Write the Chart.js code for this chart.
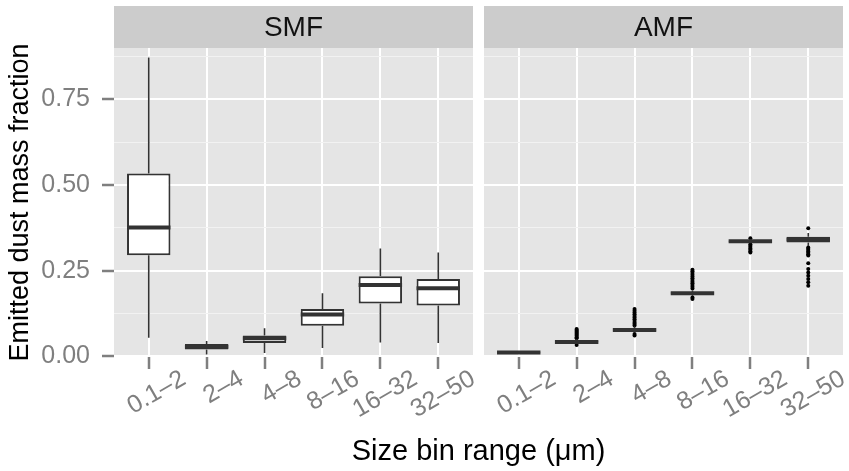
<!DOCTYPE html>
<html>
<head>
<meta charset="utf-8">
<script src="https://cdn.jsdelivr.net/npm/chart.js@4"></script>
<style>
  body { margin: 0; background: #fff; }
  #wrap { position: relative; width: 849px; height: 471px; }
  #wrap canvas { position: absolute; left: 0; top: 0; }
</style>
</head>
<body>
<div id="wrap">
  <canvas id="smf" width="849" height="471"></canvas>
  <canvas id="amf" width="849" height="471"></canvas>
</div>
<script>
const categories = ['0.1–2', '2–4', '4–8', '8–16', '16–32', '32–50'];
const facets = ['SMF', 'AMF'];
const yTicks = [0, 0.125, 0.25, 0.375, 0.5, 0.625, 0.75, 0.875];

// SMF box stats
const smfMin = [0.054, 0.005, 0.010, 0.024, 0.040, 0.039];
const smfQ1 = [0.295, 0.020, 0.039, 0.089, 0.154, 0.148];
const smfMedian = [0.376, 0.028, 0.053, 0.122, 0.208, 0.199];
const smfQ3 = [0.534, 0.036, 0.061, 0.138, 0.234, 0.226];
const smfMax = [0.872, 0.045, 0.082, 0.184, 0.315, 0.303];
const smfOutliers = [[], [], [], [], [], []];

// AMF box stats
const amfMin = [0.007, 0.036, 0.070, 0.176, 0.331, 0.322];
const amfQ1 = [0.010, 0.040, 0.074, 0.181, 0.333, 0.332];
const amfMedian = [0.011, 0.042, 0.077, 0.184, 0.336, 0.341];
const amfQ3 = [0.012, 0.045, 0.081, 0.188, 0.338, 0.349];
const amfMax = [0.015, 0.050, 0.087, 0.192, 0.341, 0.360];
const amfOutliers = [
  [],
  [0.080, 0.077, 0.074, 0.071, 0.068, 0.065, 0.062, 0.059, 0.056, 0.053, 0.033],
  [0.138, 0.133, 0.128, 0.123, 0.118, 0.113, 0.108, 0.103, 0.098, 0.094, 0.090, 0.065, 0.061],
  [0.253, 0.248, 0.243, 0.238, 0.233, 0.228, 0.223, 0.218, 0.213, 0.208, 0.203, 0.198, 0.172, 0.167],
  [0.345, 0.327, 0.323, 0.319, 0.315, 0.311, 0.307, 0.303],
  [0.374, 0.318, 0.314, 0.310, 0.306, 0.302, 0.298, 0.294, 0.272, 0.255, 0.245, 0.235, 0.226, 0.216, 0.206]
];

const FONT = "'Liberation Sans', Arial, Helvetica, sans-serif";
const PANEL_TOP = 48, PANEL_BOTTOM = 357;

// panel background, facet strip, whiskers and medians
const boxPlugin = {
  id: 'boxPlugin',
  beforeDraw(chart, args, opts) {
    const ctx = chart.ctx, a = chart.chartArea;
    ctx.save();
    ctx.fillStyle = '#E5E5E5';
    ctx.fillRect(a.left, a.top, a.right - a.left, a.bottom - a.top);
    ctx.fillStyle = '#CCCCCC';
    ctx.fillRect(a.left, 6, a.right - a.left, a.top - 6);
    ctx.fillStyle = '#111111';
    ctx.font = '28px ' + FONT;
    ctx.textAlign = 'center';
    ctx.textBaseline = 'middle';
    ctx.fillText(opts.strip, (a.left + a.right) / 2, (6 + a.top) / 2 + 1);
    ctx.restore();
  },
  afterDatasetsDraw(chart, args, opts) {
    const ctx = chart.ctx;
    const x = chart.scales.x, y = chart.scales.y;
    const meta = chart.getDatasetMeta(0);
    const s = opts.stats;
    ctx.save();
    ctx.strokeStyle = '#333333';
    ctx.lineCap = 'butt';
    categories.forEach((c, i) => {
      const px = x.getPixelForValue(i);
      const w = meta.data[i].width;
      ctx.lineWidth = 1.6;
      ctx.beginPath();
      ctx.moveTo(px, y.getPixelForValue(s.q3[i]));
      ctx.lineTo(px, y.getPixelForValue(s.max[i]));
      ctx.moveTo(px, y.getPixelForValue(s.q1[i]));
      ctx.lineTo(px, y.getPixelForValue(s.min[i]));
      ctx.stroke();
      ctx.lineWidth = 4;
      ctx.beginPath();
      const my = y.getPixelForValue(s.median[i]);
      ctx.moveTo(px - w / 2, my);
      ctx.lineTo(px + w / 2, my);
      ctx.stroke();
    });
    ctx.restore();
  },
  afterDraw(chart, args, opts) {
    if (!opts.xTitle) return;
    const ctx = chart.ctx;
    ctx.save();
    ctx.fillStyle = '#000';
    ctx.font = '29px ' + FONT;
    ctx.textAlign = 'center';
    ctx.textBaseline = 'middle';
    ctx.fillText(opts.xTitle, 478.5, 452);
    ctx.restore();
  }
};

function makeChart(id, stats, outliers, strip, first) {
  const boxes = categories.map((c, i) => ({ x: i, y: [stats.q1[i], stats.q3[i]] }));
  const points = [];
  outliers.forEach((list, i) => list.forEach(v => points.push({ x: i, y: v })));
  return new Chart(document.getElementById(id), {
    type: 'bar',
    data: {
      datasets: [{
        data: boxes,
        backgroundColor: '#FFFFFF',
        borderColor: '#333333',
        borderWidth: 2,
        borderSkipped: false,
        barPercentage: 0.75,
        categoryPercentage: 1
      }, {
        type: 'scatter',
        data: points,
        pointRadius: 2,
        pointBackgroundColor: '#000',
        pointBorderWidth: 0
      }]
    },
    options: {
      responsive: false,
      animation: false,
      events: [],
      layout: {
        padding: first
          ? { left: 0, top: PANEL_TOP, right: 849 - 473, bottom: 0 }
          : { left: 484, top: PANEL_TOP, right: 849 - 843, bottom: 0 }
      },
      plugins: {
        legend: { display: false },
        tooltip: { enabled: false },
        boxPlugin: { stats: stats, strip: strip, xTitle: first ? 'Size bin range (μm)' : '' }
      },
      scales: {
        x: {
          type: 'linear',
          min: -0.6,
          max: 5.6,
          offset: false,
          afterBuildTicks: s => { s.ticks = categories.map((c, i) => ({ value: i })); },
          afterFit: s => { s.height = 471 - PANEL_BOTTOM; },
          border: { display: false },
          grid: { offset: false, color: '#FFFFFF', lineWidth: 2, tickColor: '#7F7F7F', tickWidth: 2.5, tickLength: 12 },
          ticks: {
            callback: v => categories[v],
            minRotation: 30,
            maxRotation: 30,
            labelOffset: 35,
            padding: -5,
            color: '#7F7F7F',
            font: { family: FONT, size: 25 }
          }
        },
        y: {
          min: -0.002,
          max: 0.9,
          afterBuildTicks: s => { s.ticks = yTicks.map(v => ({ value: v })); },
          afterFit: s => { s.width = first ? 114 : 0; },
          border: { display: false },
          grid: {
            color: c => (c.tick && Math.round(c.tick.value * 1000) % 250 === 0) ? '#FFFFFF' : '#F2F2F2',
            lineWidth: c => (c.tick && Math.round(c.tick.value * 1000) % 250 === 0) ? 2 : 1,
            tickColor: c => (c.tick && Math.round(c.tick.value * 1000) % 250 === 0) ? '#7F7F7F' : 'rgba(0,0,0,0)',
            tickWidth: 2.5,
            tickLength: 12,
            drawTicks: first
          },
          ticks: {
            display: first,
            callback: v => (Math.round(v * 1000) % 250 === 0) ? v.toFixed(2) : '',
            padding: 12,
            color: '#7F7F7F',
            font: { family: FONT, size: 25 }
          },
          title: {
            display: first,
            text: 'Emitted dust mass fraction',
            color: '#000',
            font: { family: FONT, size: 27 },
            padding: { top: 4, bottom: 0 }
          }
        }
      }
    },
    plugins: [boxPlugin]
  });
}

makeChart('smf',
  { min: smfMin, q1: smfQ1, median: smfMedian, q3: smfQ3, max: smfMax },
  smfOutliers, facets[0], true);
makeChart('amf',
  { min: amfMin, q1: amfQ1, median: amfMedian, q3: amfQ3, max: amfMax },
  amfOutliers, facets[1], false);
</script>
</body>
</html>
